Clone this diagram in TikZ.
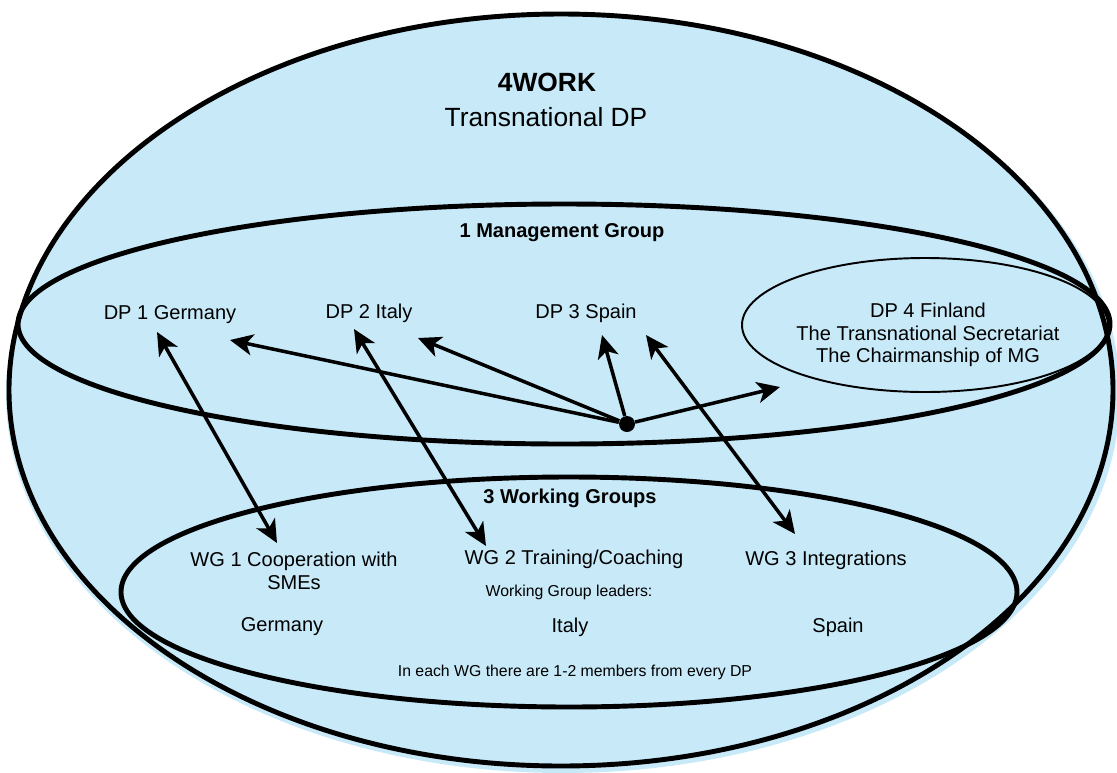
\documentclass[tikz,border=0pt]{standalone}
\usepackage{fontspec}
\setmainfont{Liberation Sans}
\usetikzlibrary{arrows.meta}
\definecolor{skyfill}{RGB}{199,233,248}

\begin{document}
\begin{tikzpicture}
[x=0.02cm, y=-0.02cm,
 ring/.style={draw=black, line width=2.8pt},
 txt/.style={font=\fontsize{11.4}{12.8}\selectfont, align=center, inner sep=0pt},
 small/.style={font=\fontsize{9}{11}\selectfont, inner sep=0pt},
 title/.style={font=\fontsize{15}{19}\selectfont, inner sep=0pt},
 tip/.style={Stealth[length=13pt, width=12pt, inset=3.5pt]},
 link/.style={line width=2pt, -{Stealth[length=13pt, width=12pt, inset=3.5pt]}},
 twoway/.style={line width=2pt, {Stealth[length=13pt, width=12pt, inset=3.5pt]}-{Stealth[length=13pt, width=12pt, inset=3.5pt]}}]

\useasboundingbox (0,0) rectangle (1117,772);
\clip (0,0) rectangle (1117,772);

\fill [skyfill] (563,394) ellipse [x radius=557, y radius=379];
\draw [ring] (561,390) ellipse [x radius=552, y radius=376];
\draw [ring] (564,324) ellipse [x radius=546, y radius=120];
\draw [ring] (569,592) ellipse [x radius=448, y radius=115];
\draw [line width=1.1pt] (925,325) ellipse [x radius=183, y radius=67];

\node (work) at (547,82) [title] {\textbf{4WORK}};
\node (tdp) at (546,117) [title] {Transnational DP};
\node (mg) at (562,233) [txt] {\textbf{1 Management Group}};
\node (dp1) at (170,315) [txt] {DP 1 Germany};
\node (dp2) at (369,313) [txt] {DP 2 Italy};
\node (dp3) at (586,313) [txt] {DP 3 Spain};
\node (dp4) at (928,335) [txt] {DP 4 Finland\\The Transnational Secretariat\\The Chairmanship of MG};
\node (wgs) at (570,498) [txt] {\textbf{3 Working Groups}};
\node (wg1) at (294,571) [txt] {WG 1 Cooperation with\\SMEs};
\node (wg2) at (574,559) [txt] {WG 2 Training/Coaching};
\node (wg3) at (826,560) [txt] {WG 3 Integrations};
\node (lead) at (569,592) [small] {Working Group leaders:};
\node (ger) at (282,627) [txt] {Germany};
\node (ita) at (570,627) [txt] {Italy};
\node (spa) at (838,627) [txt] {Spain};
\node (memb) at (575,672) [small] {In each WG there are 1-2 members from every DP};

\node (hub) at (627,424) [circle, fill, inner sep=0pt, minimum size=0.32cm] {};
\coordinate (to1) at (230,340);
\coordinate (to2) at (418,338);
\coordinate (to3) at (602,335);
\coordinate (to4) at (780,387);
\coordinate (up1) at (157,332);
\coordinate (up2) at (354,329);
\coordinate (up3) at (646,335);
\coordinate (dn1) at (277,543);
\coordinate (dn2) at (486,546);
\coordinate (dn3) at (795,534);

\draw [link] (hub) -- (to1);
\draw [link] (hub) -- (to2);
\draw [link] (hub) -- (to3);
\draw [link] (hub) -- (to4);
\draw [twoway] (up1) -- (dn1);
\draw [twoway] (up2) -- (dn2);
\draw [twoway] (up3) -- (dn3);
\end{tikzpicture}
\end{document}
